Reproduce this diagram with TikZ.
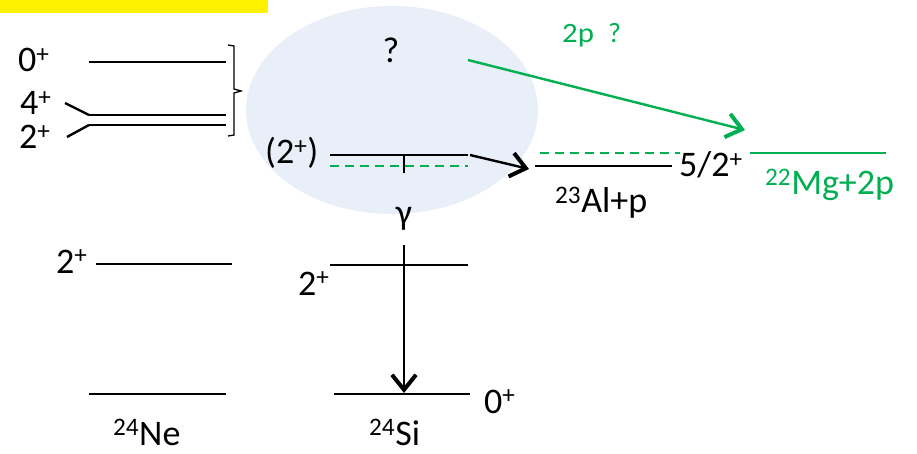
\documentclass[tikz,border=0pt]{standalone}
\usepackage{fontspec}
\setmainfont{Carlito}
\usetikzlibrary{arrows.meta}
\definecolor{offgreen}{HTML}{00B050}
\definecolor{blob}{HTML}{E9EFF8}
\tikzset{
  lvl/.style={line width=2.4pt, black},
  glvl/.style={line width=2.4pt, offgreen},
  gdash/.style={line width=2.4pt, offgreen, dash pattern=on 9pt off 6pt},
  lbl/.style={inner sep=0pt, anchor=base west, font=\fontsize{36}{42}\selectfont},
  glbl/.style={lbl, text=offgreen},
  arr/.style={line width=2.4pt, -{Straight Barb[length=15pt,width=24pt,line width=4pt]}},
}
\begin{document}
\begin{tikzpicture}[x=1pt,y=-1pt]
\useasboundingbox (0,0) rectangle (917,454);
\fill[yellow] (0,0) rectangle (268,13);
\fill[blob] (392,110) ellipse [x radius=146, y radius=104];
\node[lbl, anchor=base] (q) at (391,63) {?};
% 24Ne
\draw[lvl] (89,62) -- (226,62);
\node[lbl] (ne0p) at (18,72) {0\textsuperscript{+}};
\draw[lvl] (89,115) -- (226,115);
\draw[lvl] (89,125) -- (226,125);
\node[lbl] (ne4) at (20,115) {4\textsuperscript{+}};
\node[lbl] (ne2) at (19,149) {2\textsuperscript{+}};
\draw[lvl] (65,103) -- (89,115);
\draw[lvl] (67,137) -- (89,125);
\draw[line width=1.3pt] (228,45) -- (234,46) -- (234,89) -- (241,91) -- (234,93) -- (234,135) -- (228,136);
\draw[lvl] (96,264) -- (232,264);
\node[lbl] (ne2b) at (56,273) {2\textsuperscript{+}};
\draw[lvl] (89,394) -- (226,394);
\node[lbl] (ne) at (113,445) {\textsuperscript{24}Ne};
% 24Si
\draw[lvl] (330,155) -- (468,155);
\draw[gdash] (330,166) -- (468,166);
\draw[line width=1.6pt] (404,155) -- (404,173);
\node[lbl] (si2p) at (265,164) {(2\textsuperscript{+})};
\node[lbl, anchor=center] (gam) at (404,219) {γ};
\draw[lvl] (330,265) -- (468,265);
\node[lbl] (si2) at (298,295) {2\textsuperscript{+}};
\draw[lvl] (334,394) -- (470,394);
\node[lbl] (si0) at (484,413) {0\textsuperscript{+}};
\node[lbl] (si) at (369,445) {\textsuperscript{24}Si};
\coordinate (gtop) at (404,245);
\coordinate (gbot) at (404,393);
\draw[arr] (gtop) -- (gbot);
% 23Al+p
\coordinate (pa) at (470,155);
\coordinate (pb) at (529,169);
\draw[arr] (pa) -- (pb);
\draw[lvl] (535,166) -- (672,166);
\draw[gdash] (540,153) -- (680,153);
\node[lbl] (al52) at (679,177) {5/2\textsuperscript{+}};
\node[lbl] (al) at (555,213) {\textsuperscript{23}Al+p};
% 22Mg+2p
\coordinate (ga) at (468,60);
\coordinate (gb) at (745,130);
\draw[arr, offgreen] (ga) -- (gb);
\node[glbl, font=\fontsize{28}{32}\selectfont] (tp) at (562,43) {\scalebox{1.1}[1]{2p}\hspace{14pt}?};
\draw[glvl] (750,153) -- (886,153);
\node[glbl] (mg) at (765,195) {\textsuperscript{22}Mg+2p};
\end{tikzpicture}
\end{document}
